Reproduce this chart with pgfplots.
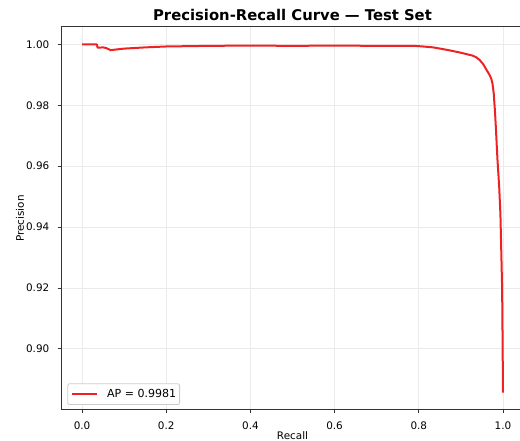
\documentclass[border=0pt]{standalone}
\usepackage{pgfplots}
\pgfplotsset{compat=1.18}
\usepackage{fontspec}
\setmainfont{DejaVu Sans}
\usetikzlibrary{calc}
\definecolor{prred}{HTML}{EE2222}
\definecolor{gridgray}{HTML}{EBEBEB}
\definecolor{legframe}{HTML}{CCCCCC}
\definecolor{spine}{HTML}{333333}

\pgfplotstableread{
rec prec
0.000 1.0000
0.035 1.0000
0.037 0.9989
0.050 0.9990
0.057 0.9988
0.068 0.9981
0.100 0.9986
0.150 0.9990
0.200 0.9993
0.300 0.9995
0.400 0.9996
0.500 0.9995
0.600 0.9996
0.700 0.9995
0.790 0.9995
0.810 0.9993
0.834 0.9990
0.855 0.9985
0.874 0.9980
0.895 0.9974
0.913 0.9968
0.928 0.9963
0.937 0.9957
0.945 0.9948
0.953 0.9935
0.961 0.9916
0.968 0.9900
0.972 0.9888
0.975 0.9872
0.978 0.9840
0.981 0.9780
0.983 0.9730
0.987 0.9620
0.991 0.9533
0.994 0.9440
0.996 0.9320
0.998 0.9200
0.9993 0.9000
1.000 0.8856
}\prdata

\begin{document}
\begin{tikzpicture}
\begin{axis}[scale only axis,width=347.25pt,height=287.25pt,
  xmin=-0.05,xmax=1.05,ymin=0.8799,ymax=1.0057,
  xtick={0,0.2,0.4,0.6,0.8,1.0},ytick={0.90,0.92,0.94,0.96,0.98,1.00},
  /pgf/number format/assume math mode=true,
  tick pos=left,tick align=outside,major tick length=2.6pt,
  tick style={spine,line width=0.6pt},
  axis line style={spine,line width=0.75pt},
  grid=major,major grid style={gridgray,line width=0.6pt},
  ticklabel style={font=\fontsize{7.8}{9}\selectfont},
  xticklabel style={anchor=base,yshift=-12pt,/pgf/number format/fixed,/pgf/number format/fixed zerofill,/pgf/number format/precision=1},
  yticklabel style={anchor=east,inner xsep=0pt,xshift=-6pt,/pgf/number format/fixed,/pgf/number format/fixed zerofill,/pgf/number format/precision=2},
  title={Precision-Recall Curve — Test Set},
  every axis title/.style={at={(axis description cs:0.5,1)},anchor=base,yshift=4.5pt,font=\fontsize{11.1}{13}\bfseries},
  xlabel={Recall},ylabel={Precision},
  every axis x label/.style={at={(axis description cs:0.5,0)},anchor=base,yshift=-22.5pt,font=\fontsize{7.8}{9}\selectfont},
  every axis y label/.style={at={(axis description cs:-0.08855,0.5)},rotate=90,anchor=center,font=\fontsize{7.8}{9}\selectfont},
  legend style={at={(axis description cs:0,0)},anchor=south west,xshift=4.7pt,yshift=3.75pt,
    draw=legframe,line width=0.6pt,rounded corners=1.5pt,inner xsep=2.5pt,inner ysep=3pt,
    nodes={inner xsep=0pt,inner ysep=1pt},
    /tikz/every odd column/.append style={column sep=6.75pt}},
  legend cell align=left,
  legend image code/.code={\draw[#1] (0pt,0pt) -- (18.75pt,0pt);}]
\addplot[prred,line width=1.5pt,line join=round] table[x=rec,y=prec] {\prdata};
\addlegendentry{\fontsize{8.3}{10}\selectfont AP = 0.9981\hspace{4pt}}
\end{axis}
\pgfresetboundingbox
\path ($(current axis.south west)+(-45.75pt,-23.25pt)$) rectangle ($(current axis.south west)+(344.25pt,307.5pt)$);
\end{tikzpicture}
\end{document}
